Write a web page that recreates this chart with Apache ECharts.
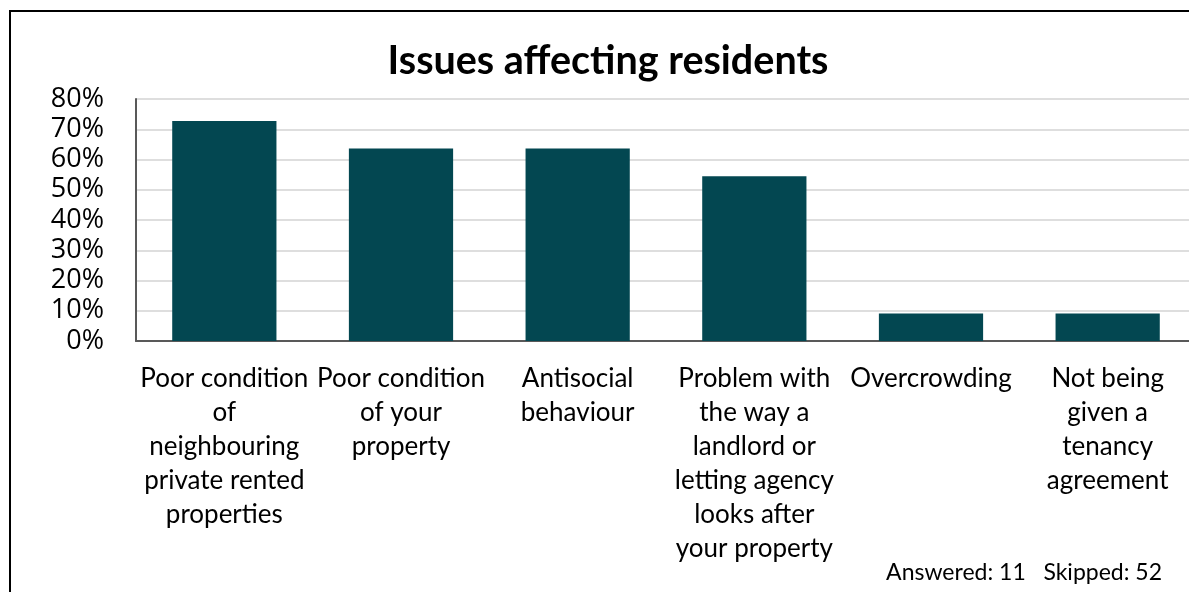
<!DOCTYPE html>
<html>
<head>
<meta charset="utf-8">
<script src="https://cdn.jsdelivr.net/npm/echarts@6/dist/echarts.min.js"></script>
<style>
  html, body { margin: 0; padding: 0; background: #fff; overflow: hidden; }
  /* the plot runs slightly past the right edge of the window */
  #chart { width: 1200px; height: 592px; }
</style>
</head>
<body>
<div id="chart"></div>
<script>
// Survey responses: share of residents reporting each issue
const categories = [
  'Poor condition\nof\nneighbouring\nprivate rented\nproperties',
  'Poor condition\nof your\nproperty',
  'Antisocial\nbehaviour',
  'Problem with\nthe way a\nlandlord or\nletting agency\nlooks after\nyour property',
  'Overcrowding',
  'Not being\ngiven a\ntenancy\nagreement'
];
const shares = [0.727, 0.636, 0.636, 0.545, 0.091, 0.091];
const answered = 11;
const skipped = 52;

const FONT = 'Lato, "Open Sans", sans-serif';
const TICK_FONT = '"Open Sans", Lato, sans-serif';

const chart = echarts.init(document.getElementById('chart'), null, { renderer: 'canvas' });
chart.setOption({
  animation: false,
  backgroundColor: '#fff',
  title: {
    text: 'Issues affecting residents',
    left: 603,
    textAlign: 'center',
    top: 36,
    textStyle: { fontFamily: FONT, fontSize: 39.5, fontWeight: 'bold', color: '#000' }
  },
  grid: { left: 136, top: 99, width: 1060, height: 242, containLabel: false },
  xAxis: {
    type: 'category',
    data: categories,
    axisTick: { show: false },
    axisLine: { lineStyle: { color: '#595959', width: 2 } },
    axisLabel: {
      interval: 0,
      margin: 21,
      fontFamily: FONT,
      fontSize: 26,
      lineHeight: 34,
      color: '#000',
      align: 'center'
    }
  },
  yAxis: {
    type: 'value',
    min: 0,
    max: 0.8,
    interval: 0.1,
    axisLine: { show: true, lineStyle: { color: '#595959', width: 2 } },
    axisTick: { show: false },
    splitLine: { lineStyle: { color: '#dedede', width: 2 } },
    axisLabel: {
      margin: 32,
      fontFamily: TICK_FONT,
      fontSize: 27,
      color: '#000',
      formatter: v => Math.round(v * 100) + '%'
    }
  },
  series: [{
    type: 'bar',
    data: shares,
    barWidth: '59%',
    itemStyle: { color: '#034751' }
  }],
  graphic: [
    {
      type: 'rect',
      shape: { x: 10, y: 11, width: 1300, height: 700 },
      style: { fill: null, stroke: '#000', lineWidth: 2 },
      silent: true
    },
    {
      type: 'text',
      right: 38,
      top: 561,
      style: {
        text: 'Answered: ' + answered + '   Skipped: ' + skipped,
        font: '23px ' + FONT,
        fill: '#000'
      }
    }
  ]
});
</script>
</body>
</html>
